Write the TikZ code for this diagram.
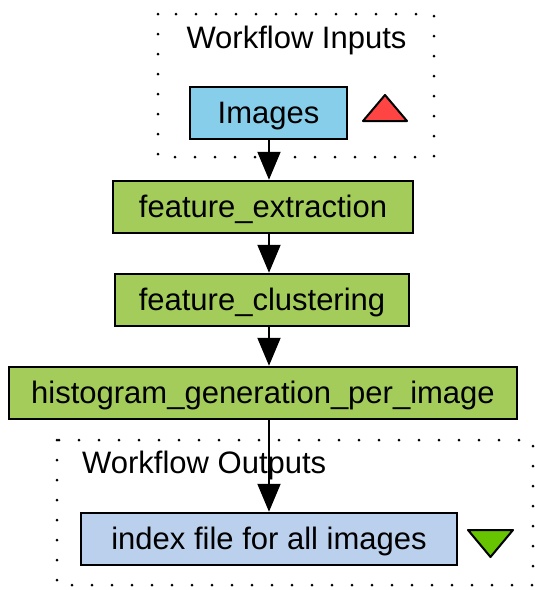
\documentclass[tikz,border=0pt]{standalone}
\usepackage{fontspec}
\setmainfont{Liberation Sans}
\usetikzlibrary{arrows.meta}
\definecolor{inblue}{HTML}{87CEEB}
\definecolor{procgreen}{HTML}{A3CC5A}
\definecolor{outblue}{HTML}{BBD0EC}
\definecolor{tri red}{HTML}{FF4444}
\definecolor{tri green}{HTML}{66C400}
\tikzset{
  lbl/.style={font=\fontsize{31}{36}\selectfont, inner sep=0pt},
  box/.style={draw=black, line width=2.5pt, lbl, minimum height=52pt, text height=20pt, text depth=0pt},
  procbox/.style={box, fill=procgreen},
  dotbox/.style={draw=black, line width=3pt, line cap=round, dash pattern=on 0pt off 20pt},
  flow/.style={line width=2pt, -{Triangle[length=28pt,width=23pt]}}
}
\begin{document}
\begin{tikzpicture}[x=1pt,y=-1pt]
\useasboundingbox (0,0) rectangle (535,590);
% dotted groups
\draw[dotbox] (158,14) rectangle (434,157);
\draw[dotbox] (57,440) rectangle (533,585);
\node[lbl] (inlbl) at (296.5,40) {Workflow Inputs};
\node[lbl, anchor=west] (outlbl) at (82,465) {Workflow Outputs};
% nodes
\node[box, fill=inblue, minimum width=157pt] (img) at (268.5,113) {Images};
\node[procbox, minimum width=300pt] (fe) at (263,207) {feature\_extraction};
\node[procbox, minimum width=294pt] (fc) at (262,300) {feature\_clustering};
\node[procbox, minimum width=508pt] (hg) at (263,393) {histogram\_generation\_per\_image};
\node[box, fill=outblue, minimum width=376pt] (out) at (269,539) {index file for all images};
% port triangles
\draw[line width=2pt, line join=round, fill=tri red] (385,95) -- (407,121) -- (363,121) -- cycle;
\draw[line width=2pt, line join=round, fill=tri green] (468,530) -- (513,530) -- (490.5,557) -- cycle;
% connectors
\coordinate (ax) at (269,0);
\draw[flow] (img.south -| ax) -- (fe.north -| ax);
\draw[flow] (fe.south -| ax) -- (fc.north -| ax);
\draw[flow] (fc.south -| ax) -- (hg.north -| ax);
\draw[flow] (hg.south -| ax) -- (out.north -| ax);
\end{tikzpicture}
\end{document}
